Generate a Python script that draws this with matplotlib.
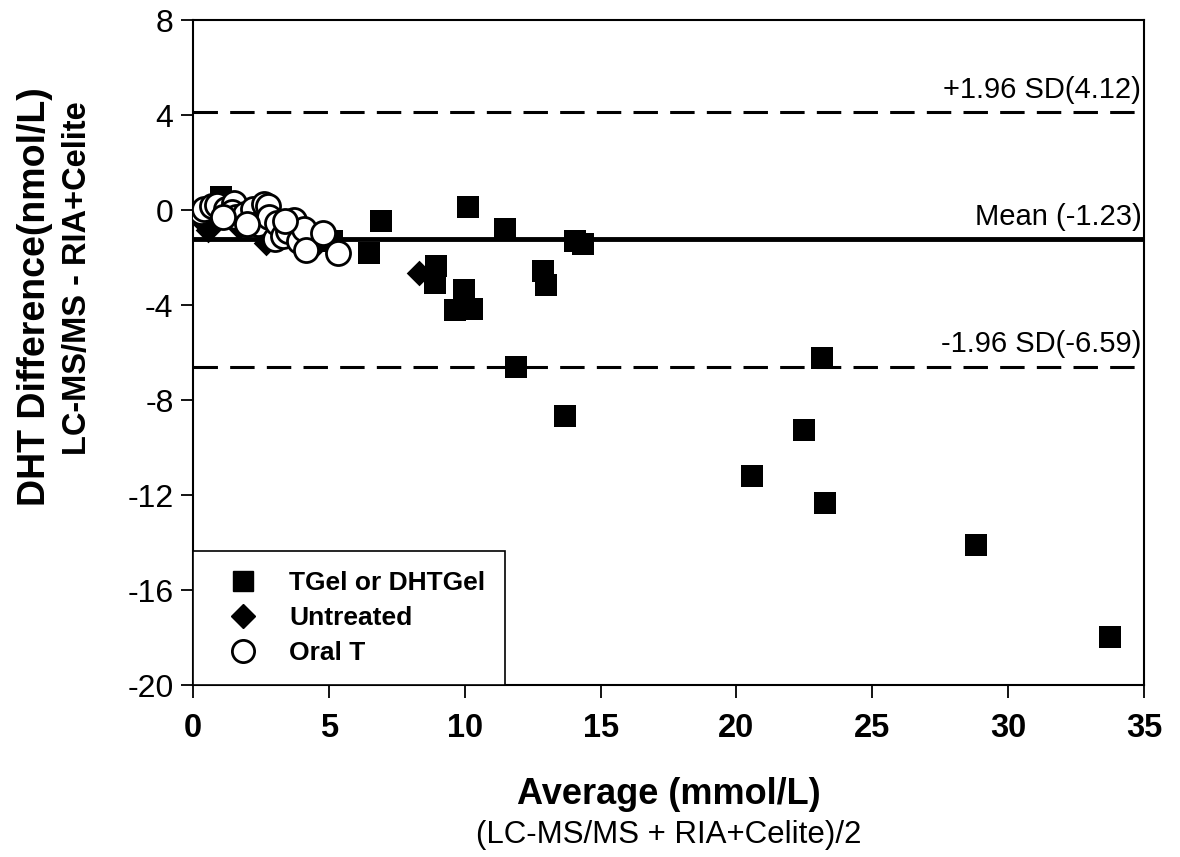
import matplotlib
matplotlib.use("Agg")
import matplotlib.pyplot as plt
from matplotlib.lines import Line2D

plt.rcParams['font.family'] = ['Liberation Sans', 'DejaVu Sans']

# TGel or DHTGel (squares)
tgel_x = [1.03, 5.1, 6.48, 6.92, 10.12, 11.48, 14.06, 14.35, 8.94, 8.9, 9.97, 9.64, 10.27,
          12.88, 12.99, 11.9, 13.7, 20.57, 22.49, 23.15, 23.26, 28.82, 33.75]
tgel_y = [0.55, -1.3, -1.8, -0.46, 0.12, -0.8, -1.3, -1.43, -2.36, -3.07, -3.37, -4.21, -4.17,
          -2.57, -3.16, -6.6, -8.67, -11.2, -9.26, -6.23, -12.34, -14.1, -17.98]

# Untreated (diamonds)
untr_x = [0.2, 0.55, 0.8, 1.7, 2.7, 3.2, 4.0, 4.6, 8.3]
untr_y = [-0.3, -0.85, -0.4, -0.7, -1.4, -1.1, -1.5, -1.4, -2.65]

# Oral T (open circles)
oral_x = [0.3, 0.4, 0.7, 0.9, 1.2, 1.5, 1.45, 1.6, 1.9, 2.2, 2.4, 2.6, 2.75, 2.8, 3.0,
          3.1, 3.3, 3.5, 3.7, 3.9, 4.1, 4.15, 4.8, 5.35, 1.1, 2.0, 3.4]
oral_y = [-0.1, 0.05, 0.15, 0.2, 0.05, 0.3, -0.1, -0.3, -0.15, 0.05, -0.6, 0.25, 0.15, -0.3, -1.2,
          -0.55, -1.1, -0.9, -0.4, -1.3, -0.8, -1.7, -0.95, -1.8, -0.3, -0.6, -0.45]

mean_diff = -1.23
upper_loa = 4.12
lower_loa = -6.59

xticks = [0, 5, 10, 15, 20, 25, 30, 35]
yticks = [8, 4, 0, -4, -8, -12, -16, -20]

fig = plt.figure(figsize=(11.8, 8.57), dpi=100)
ax = fig.add_axes([193/1180, 1-685/857, (1144-193)/1180, (685-20)/857])

ax.axhline(upper_loa, color='black', lw=2.2, ls=(0, (8, 4)))
ax.axhline(lower_loa, color='black', lw=2.2, ls=(0, (8, 4)))
ax.axhline(mean_diff, color='black', lw=3.5)

ax.scatter(tgel_x, tgel_y, marker='s', s=230, c='black', zorder=3, linewidths=0)
ax.scatter(untr_x, untr_y, marker='D', s=170, c='black', zorder=3, linewidths=0)
ax.scatter(oral_x, oral_y, marker='o', s=300, facecolors='white', edgecolors='black',
           linewidths=2, zorder=4)

ax.set_xlim(0, 35)
ax.set_ylim(-20, 8)
ax.set_xticks(xticks)
ax.set_yticks(yticks)
ax.set_xticklabels([str(t) for t in xticks], fontsize=23.5, fontweight='bold')
ax.set_yticklabels([str(t) for t in yticks], fontsize=23)
ax.tick_params(axis='x', direction='out', length=9, width=1.3, pad=11)
ax.tick_params(axis='y', direction='out', length=9, width=1.3, pad=5)
for sp in ax.spines.values():
    sp.set_linewidth(1.5)

tfs = 21
ax.text(34.9, upper_loa + 0.35, '+1.96 SD(4.12)', ha='right', va='bottom', fontsize=tfs)
ax.text(34.9, mean_diff + 0.35, 'Mean (-1.23)', ha='right', va='bottom', fontsize=tfs)
ax.text(34.9, lower_loa + 0.35, '-1.96 SD(-6.59)', ha='right', va='bottom', fontsize=tfs)

handles = [
    Line2D([], [], marker='s', ls='none', color='black', markersize=14, label='TGel or DHTGel'),
    Line2D([], [], marker='D', ls='none', color='black', markersize=12, label='Untreated'),
    Line2D([], [], marker='o', ls='none', markerfacecolor='white', markeredgecolor='black',
           markeredgewidth=2, markersize=16, label='Oral T'),
]
leg = ax.legend(handles=handles, loc='lower left', bbox_to_anchor=(0, 0), borderaxespad=0,
                frameon=True, fancybox=False, edgecolor='black', framealpha=1,
                prop={'weight': 'bold', 'size': 19}, handletextpad=0.6,
                labelspacing=0.42, borderpad=0.75, handlelength=2.3)
leg.get_frame().set_linewidth(1.2)
leg.set_zorder(5)

fig.text((193+1144)/2/1180, 1-795/857, 'Average (mmol/L)', ha='center', va='center',
         fontsize=26, fontweight='bold')
fig.text((193+1144)/2/1180, 1-835/857, '(LC-MS/MS + RIA+Celite)/2', ha='center', va='center',
         fontsize=22.5)
fig.text(35/1180, 1-297/857, 'DHT Difference(nmol/L)', ha='center', va='center',
         rotation=90, fontsize=27, fontweight='bold')
fig.text(78/1180, 1-278/857, 'LC-MS/MS - RIA+Celite', ha='center', va='center',
         rotation=90, fontsize=23.5, fontweight='bold')

fig.savefig('out.png', dpi=100)
